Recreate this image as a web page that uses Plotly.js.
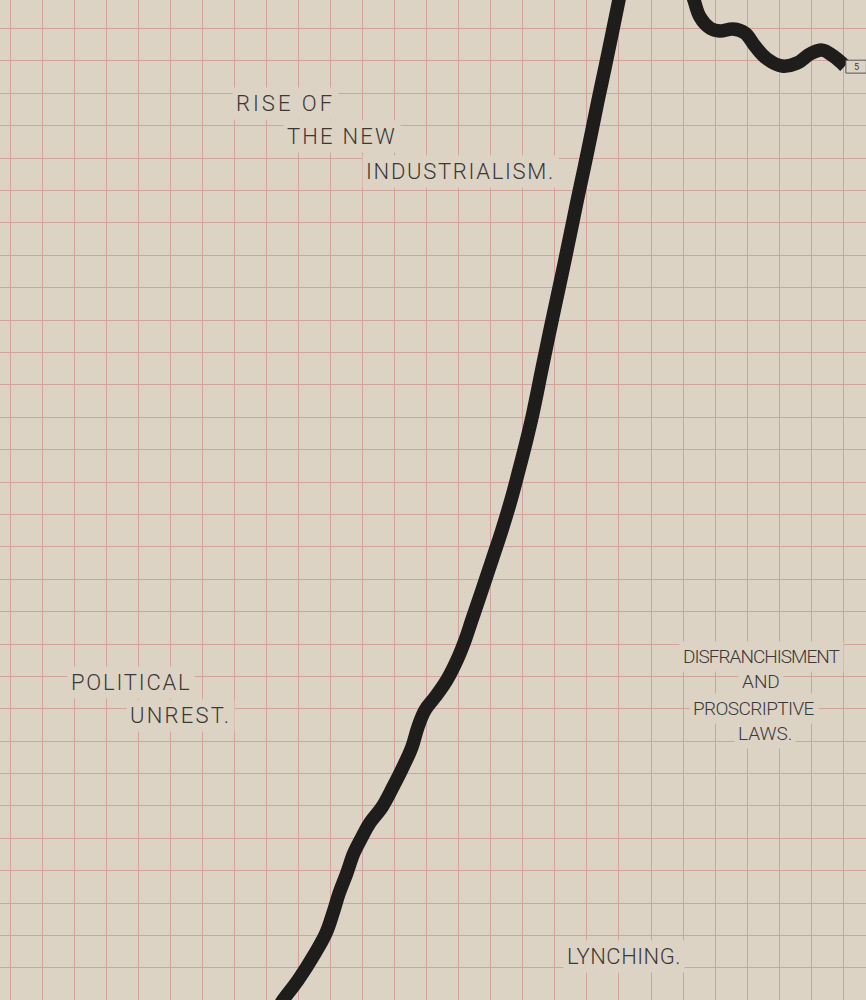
<!DOCTYPE html>
<html>
<head>
<meta charset="utf-8">
<script src="https://cdn.plot.ly/plotly-3.0.1.min.js"></script>
<style>
  html, body { margin: 0; padding: 0; background: #ddd3c5; }
  #chart { width: 866px; height: 1000px; }
</style>
</head>
<body>
<div id="chart"></div>
<script>
// Curve, in grid-square units (x: columns, y: rows from the lowest full rule)
const curveX = [8.30, 8.52, 8.99, 9.52, 9.86, 10.08, 10.27, 10.51, 10.73, 10.98, 11.23, 11.61, 11.95, 12.26,
  12.54, 12.73, 12.95, 13.26, 13.63, 13.95, 14.20, 14.41, 14.73, 15.04, 15.35, 15.63, 15.88, 16.08, 16.29,
  16.61, 16.83, 17.05, 17.27, 17.49, 17.70, 17.92, 18.14, 18.35, 18.57, 18.79, 19.00, 19.08,
  20.16,
  21.22, 21.34, 21.53, 21.84, 22.15, 22.56, 22.93, 23.24, 23.62, 24.09, 24.56, 24.96, 25.34, 25.68, 26.05];
const curveY = [-1.36, -0.99, -0.37, 0.46, 1.08, 1.70, 2.31, 2.93, 3.55, 4.04, 4.48, 4.97, 5.59, 6.20,
  6.82, 7.44, 7.96, 8.36, 8.89, 9.51, 10.12, 10.74, 11.67, 12.59, 13.52, 14.44, 15.37, 16.14, 17.01,
  18.55, 19.60, 20.62, 21.64, 22.69, 23.70, 24.72, 25.77, 26.79, 27.81, 28.86, 29.88, 30.25,
  32.04,
  30.25, 29.88, 29.35, 29.01, 28.92, 28.98, 28.86, 28.46, 28.06, 27.84, 27.93, 28.21, 28.33, 28.15, 27.84];

// Labels: text lines and their anchor points in grid units
const labelText = ["RISE OF", "THE NEW", "INDUSTRIALISM.", "POLITICAL", "UNREST.",
  "DISFRANCHISMENT", "AND", "PROSCRIPTIVE", "LAWS.", "LYNCHING."];
const labelX = [6.92, 8.51, 10.98, 1.77, 3.62, 23.46, 23.43, 23.21, 23.56, 17.25];
const labelY = [26.67, 25.65, 24.57, 8.80, 7.78, 9.60, 8.83, 8.02, 7.25, 0.37];
const labelAnchor = ["left", "left", "left", "left", "left", "center", "center", "center", "center", "left"];

// Lettering style (size and tracking per label)
const labelSize = [22, 22, 22, 22, 22, 19, 19, 19, 19, 22];
const labelTracking = [3.0, 2.2, 1.7, 1.8, 2.2, -1.0, 0, -0.6, 0, 0.5];

const paper = "#ddd3c5";
const gridColor = "#d2a39c";
const ink = "#3b3937";

const trace = {
  x: curveX, y: curveY,
  type: "scatter", mode: "lines",
  line: { color: "#1f1d1b", width: 13.5, shape: "spline", smoothing: 1.1 },
  hoverinfo: "skip", cliponaxis: true
};

const annotations = labelText.map((t, i) => ({
  text: '<span style="letter-spacing:' + labelTracking[i] + 'px">' + t + '</span>',
  x: labelX[i], y: labelY[i], xref: "x", yref: "y",
  xanchor: labelAnchor[i], yanchor: "middle", showarrow: false,
  font: { family: "Roboto, 'DejaVu Sans', sans-serif", size: labelSize[i], weight: 300, color: ink },
  bgcolor: paper, borderpad: 3
}));
annotations.push({
  text: "5", x: 26.40, y: 27.82, xref: "x", yref: "y", xanchor: "center", yanchor: "middle",
  showarrow: false, font: { family: "Roboto, sans-serif", size: 9, color: ink }
});

const layout = {
  width: 866, height: 1000,
  margin: { l: 0, r: 0, t: 0, b: 0, pad: 0 },
  paper_bgcolor: paper, plot_bgcolor: paper,
  showlegend: false,
  xaxis: {
    range: [-0.312, 26.708], tick0: 0, dtick: 1, showgrid: true, gridcolor: gridColor, gridwidth: 1,
    zeroline: false, showticklabels: false, ticks: "", showline: false, fixedrange: true
  },
  yaxis: {
    range: [-0.988, 29.877], tick0: 0, dtick: 1, showgrid: true, gridcolor: gridColor, gridwidth: 1,
    zeroline: false, showticklabels: false, ticks: "", showline: false, fixedrange: true
  },
  shapes: [{
    type: "rect", xref: "x", yref: "y", x0: 26.08, x1: 26.72, y0: 27.62, y1: 28.02,
    line: { color: "#555", width: 1 }, fillcolor: paper, layer: "above"
  }],
  annotations: annotations
};

Plotly.newPlot("chart", [trace], layout, { staticPlot: true, displayModeBar: false });
</script>
</body>
</html>
